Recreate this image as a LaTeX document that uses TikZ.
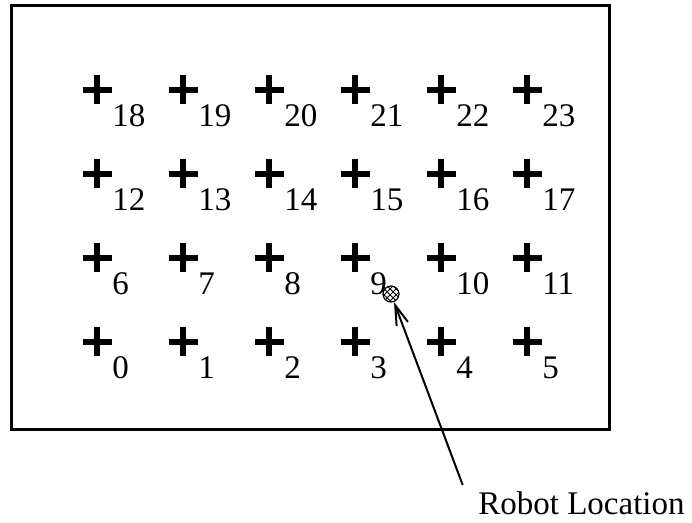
\documentclass[tikz,border=0pt]{standalone}
\usepackage{fontspec}
\setmainfont{Liberation Serif}
\usetikzlibrary{arrows.meta,patterns}
\begin{document}
\begin{tikzpicture}[x=0.5pt,y=-0.5pt,>={Straight Barb[length=10pt,width=6pt]},
    plusmark/.style={line width=2.8pt},
    sub/.style={inner sep=0pt,anchor=base west,font=\fontsize{16.5}{19}\selectfont}]
        \useasboundingbox (0,0) rectangle (692,523);
        \draw[line width=1.5pt] (11,6) rectangle (609,430);

        % grid of reference points
        \foreach \n in {0,...,23} {
            \pgfmathtruncatemacro{\c}{mod(\n,6)}
            \pgfmathtruncatemacro{\r}{3-int(\n/6)}
            \coordinate (p\n) at (97+86*\c,90+84*\r);
            \draw[plusmark] (p\n) +(-14.5,0) -- +(14.5,0) +(0,-14.5) -- +(0,14.5);
            \node[sub] (l\n) at ([shift={(15,37)}]p\n) {\n};
        }

        \node (robot) [circle, draw, line width=0.6pt, minimum size=8pt, inner sep=0pt,
            pattern=crosshatch] at (391,294) {};
        \node (loc) [sub] at (478,515) {Robot Location};
        \coordinate (tail) at (462.7,485);
        \draw[->,line width=1pt] (tail) -- (robot);
\end{tikzpicture}
\end{document}
